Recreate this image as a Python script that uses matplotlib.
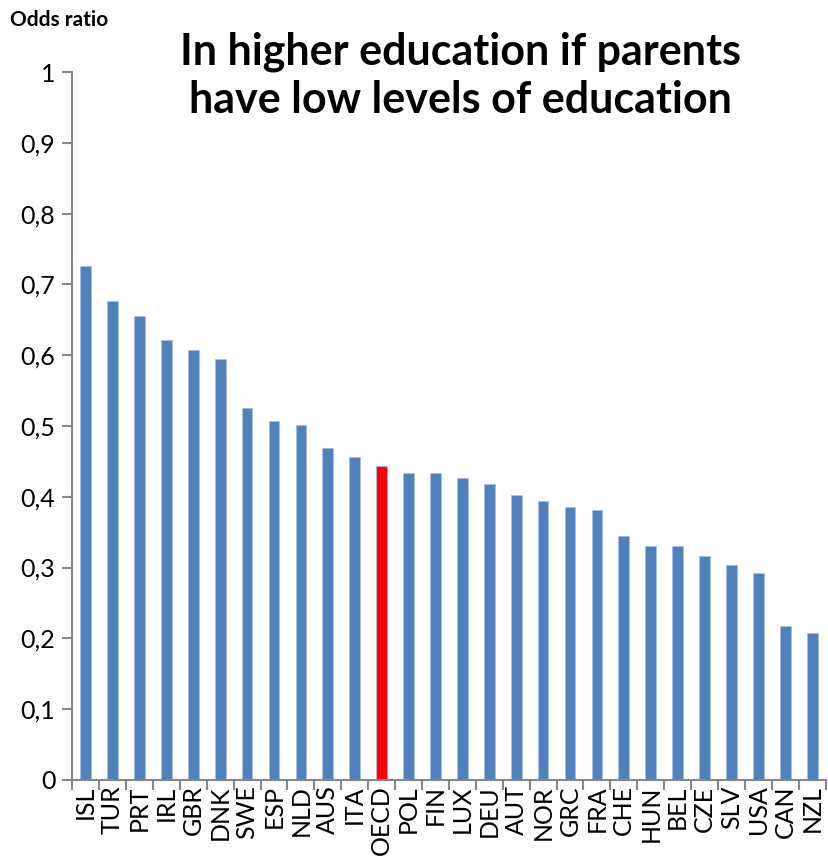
import numpy as np
import matplotlib.pyplot as plt
from matplotlib.ticker import FuncFormatter, MultipleLocator

countries = ["ISL", "TUR", "PRT", "IRL", "GBR", "DNK", "SWE", "ESP", "NLD", "AUS",
             "ITA", "OECD", "POL", "FIN", "LUX", "DEU", "AUT", "NOR", "GRC", "FRA",
             "CHE", "HUN", "BEL", "CZE", "SLV", "USA", "CAN", "NZL"]
odds = [0.726, 0.676, 0.655, 0.621, 0.608, 0.595, 0.525, 0.507, 0.501, 0.469,
        0.456, 0.444, 0.433, 0.433, 0.427, 0.418, 0.403, 0.394, 0.386, 0.382,
        0.345, 0.331, 0.330, 0.317, 0.303, 0.292, 0.217, 0.207]

plt.rcParams["font.family"] = ["Lato", "DejaVu Sans"]

colors = ["#FF0000" if c == "OECD" else "#4F81BD" for c in countries]
x = np.arange(len(countries))


def comma_fmt(v, pos):
    if abs(v - round(v)) < 1e-9:
        return str(int(round(v)))
    return f"{v:.1f}".replace(".", ",")


fig = plt.figure(figsize=(8.29, 8.58), dpi=100)
ax = fig.add_axes([0.087, 0.091, 0.909, 0.825])
ax.bar(x, odds, width=0.4, color=colors, edgecolor="#A9C1E0", linewidth=0.6)

ax.set_xlim(-0.5, len(countries) - 0.5)
ax.set_ylim(0, 1)
ax.yaxis.set_major_locator(MultipleLocator(0.1))
ax.yaxis.set_major_formatter(FuncFormatter(comma_fmt))

ax.set_xticks(x)
ax.set_xticklabels(countries, rotation=90)
ax.set_xticks(np.arange(-0.5, len(countries)), minor=True)
ax.tick_params(axis="x", which="major", length=0, labelsize=18, pad=4)
ax.tick_params(axis="x", which="minor", length=7, color="#868686", width=1.5)
ax.tick_params(axis="y", length=7, color="#868686", width=1.5, labelsize=18, pad=5)

for s in ["top", "right"]:
    ax.spines[s].set_visible(False)
for s in ["left", "bottom"]:
    ax.spines[s].set_color("#868686")
    ax.spines[s].set_linewidth(1.5)

fig.text(0.012, 0.977, "Odds ratio", fontsize=15, fontweight="bold", va="center", ha="left")
fig.text(0.555, 0.912, "In higher education if parents\nhave low levels of education",
         fontsize=31, fontweight="bold", ha="center", va="center", linespacing=1.25)

fig.savefig("out.png", dpi=100)
